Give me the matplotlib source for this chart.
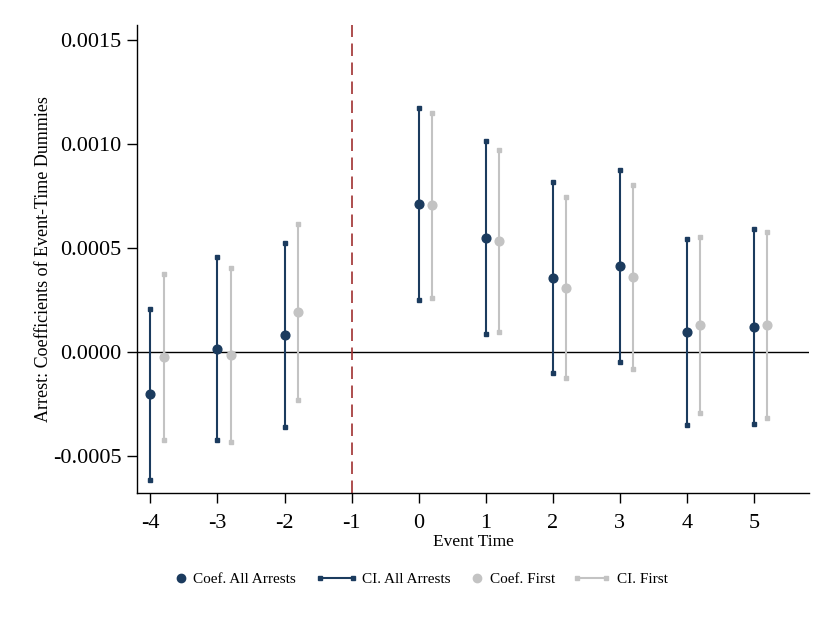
import matplotlib
matplotlib.use("Agg")
import matplotlib.pyplot as plt
import numpy as np
from matplotlib.lines import Line2D

plt.rcParams['font.family'] = ['Liberation Serif', 'DejaVu Serif']

event_time = [-4, -3, -2, 0, 1, 2, 3, 4, 5]
tick_labels = ['-4', '-3', '-2', '-1', '0', '1', '2', '3', '4', '5']

coef_all = [-0.000203, 0.000016, 0.000082, 0.000710, 0.000550, 0.000357, 0.000413, 0.000096, 0.000122]
ci_all_lo = [-0.000615, -0.000425, -0.000362, 0.000248, 0.000088, -0.000102, -0.000050, -0.000352, -0.000346]
ci_all_hi = [0.000207, 0.000457, 0.000524, 0.001172, 0.001013, 0.000817, 0.000875, 0.000543, 0.000593]

coef_first = [-0.000024, -0.000014, 0.000192, 0.000707, 0.000534, 0.000309, 0.000361, 0.000130, 0.000130]
ci_first_lo = [-0.000425, -0.000434, -0.000232, 0.000261, 0.000095, -0.000127, -0.000080, -0.000295, -0.000317]
ci_first_hi = [0.000375, 0.000402, 0.000615, 0.001152, 0.000971, 0.000744, 0.000803, 0.000555, 0.000576]

legend_labels = ['Coef. All Arrests', 'CI. All Arrests', 'Coef. First', 'CI. First']

navy = '#1b3b5e'
gray = '#c3c3c3'
offset = 0.2
W, H = 837, 632

fig = plt.figure(figsize=(W / 100, H / 100), dpi=100)
ax = fig.add_axes([0.1637, 0.220, 0.8028, 0.740])

ax.axhline(0, color='black', lw=1.0, zorder=1)
ax.axvline(-1, color='#a03030', lw=1.2, ls=(0, (7.5, 3.9)), zorder=1)

for x, lo, hi in zip(event_time, ci_all_lo, ci_all_hi):
    ax.plot([x, x], [lo, hi], color=navy, lw=1.5, marker='s', ms=3.4, zorder=2)
for x, lo, hi in zip(event_time, ci_first_lo, ci_first_hi):
    ax.plot([x + offset, x + offset], [lo, hi], color=gray, lw=1.5,
            marker='s', ms=3.4, zorder=2)

ax.plot(event_time, coef_all, ls='none', marker='o', ms=6.3, color=navy, zorder=3)
ax.plot(np.array(event_time) + offset, coef_first, ls='none', marker='o', ms=6.3,
        color=gray, zorder=3)

ax.set_xlim(-4.2, 5.82)
ax.set_ylim(-0.000678, 0.001572)
ax.set_xticks(range(-4, 6))
ax.set_xticklabels(tick_labels)
ax.set_yticks([-0.0005, 0.0, 0.0005, 0.0010, 0.0015])
ax.set_yticklabels(['-0.0005', '0.0000', '0.0005', '0.0010', '0.0015'])
ax.tick_params(axis='both', labelsize=16, length=7, width=1.0, direction='out')
ax.tick_params(axis='x', pad=8)
ax.tick_params(axis='y', pad=4)

for s in ['top', 'right']:
    ax.spines[s].set_visible(False)
for s in ['left', 'bottom']:
    ax.spines[s].set_linewidth(1.0)

ax.set_xlabel('Event Time', fontsize=12.5, labelpad=1)
ax.set_ylabel('Arrest: Coefficients of Event-Time Dummies', fontsize=13, labelpad=0.5)

# Legend row below the plot, laid out in figure pixels
ly = 1 - 578 / H


def fx(px):
    return px / W


fig.add_artist(Line2D([fx(181)], [ly], ls='none', marker='o', ms=6.0, color=navy,
                      transform=fig.transFigure))
fig.add_artist(Line2D([fx(320), fx(353)], [ly, ly], color=navy, lw=1.5, marker='s',
                      ms=3.4, transform=fig.transFigure))
fig.add_artist(Line2D([fx(477)], [ly], ls='none', marker='o', ms=6.0, color=gray,
                      transform=fig.transFigure))
fig.add_artist(Line2D([fx(577), fx(606)], [ly, ly], color=gray, lw=1.5, marker='s',
                      ms=3.4, transform=fig.transFigure))
for px, text in zip([193, 362, 490, 617], legend_labels):
    fig.text(fx(px), ly, text, fontsize=11, ha='left', va='center_baseline')

fig.savefig('out.png', dpi=100)
